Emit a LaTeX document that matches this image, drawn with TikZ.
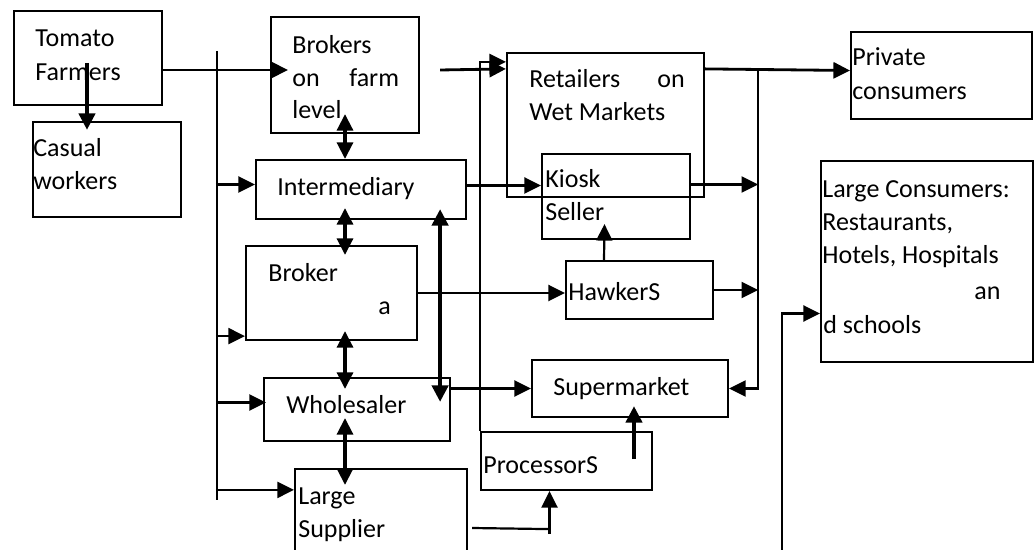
\documentclass[tikz,border=0pt]{standalone}
\usepackage{fontspec}
\setmainfont{Carlito}
\usepackage{tikz}
\usetikzlibrary{calc, arrows.meta, fit}

\begin{document}
\begin{tikzpicture}[
    x=0.02cm, y=-0.02cm,
    font=\fontsize{14.8}{17}\selectfont,
    box/.style={draw, line width=1.25pt, inner sep=0pt},
    txt/.style={anchor=base west, inner sep=0pt},
    link/.style={line width=1.25pt},
    arr/.style={line width=1.25pt, -{Triangle[length=0.33cm, width=0.32cm]}},
    mainarr/.style={arr, line width=1.6pt},
    dblarr/.style={line width=1.8pt, {Triangle[length=0.33cm, width=0.32cm]}-{Triangle[length=0.33cm, width=0.32cm]}},
    heavyarr/.style={arr, line width=2.4pt}
]
    \useasboundingbox (0,0) rectangle (1034,550);

    \node[box, fit={(14,11) (162,105)}] (farmers) {};
    \node[box, fit={(33,122) (181,217)}] (casual) {};
    \node[box, fit={(271,17) (419,133)}] (brokers) {};
    \node[box, fit={(256,160) (466,219)}] (inter) {};
    \node[box, fit={(246,246) (417,340)}] (broker) {};
    \node[box, fit={(264,378) (450,441)}] (whole) {};
    \node[box, fit={(295,469) (467,565)}] (lsup) {};
    \node[box, fit={(507,53) (704,197)}] (retail) {};
    \node[box, fit={(542,154) (690,239)}] (kiosk) {};
    \node[box, fit={(566,261) (713,319)}] (hawk) {};
    \node[box, fit={(532,360) (728,417)}] (supm) {};
    \node[box, fit={(481,432) (652,490)}] (procs) {};
    \node[box, fit={(851,32) (1032,119)}] (priv) {};
    \node[box, fit={(821,161) (1033,362)}] (lcons) {};

    \node[txt] (farmers-a) at (35,47) {Tomato};
    \node[txt] (farmers-b) at (35,81) {Farmers};
    \node[txt] (casual-a) at (33,157) {Casual};
    \node[txt] (casual-b) at (33,190) {workers};
    \node[txt] (brokers-a) at (292,54) {Brokers};
    \node[txt] (brokers-b) at (292,87) {on};
    \node[txt] (brokers-c) at (349,87) {farm};
    \node[txt] (brokers-d) at (292,119) {level};
    \node[txt] (inter-a) at (277,196) {Intermediary};
    \node[txt] (broker-a) at (268,282) {Broker};
    \node[txt] (broker-b) at (378,315) {a};
    \node[txt] (whole-a) at (286,413) {Wholesaler};
    \node[txt] (lsup-a) at (298,504) {Large};
    \node[txt] (lsup-b) at (298,537) {Supplier};
    \node[txt] (retail-a) at (529,88) {Retailers};
    \node[txt] (retail-b) at (657,88) {on};
    \node[txt] (retail-c) at (529,121) {Wet Markets};
    \node[txt] (kiosk-a) at (545,188) {Kiosk};
    \node[txt] (kiosk-b) at (545,221) {Seller};
    \node[txt] (hawk-a) at (568,301) {HawkerS};
    \node[txt] (supm-a) at (553,396) {Supermarket};
    \node[txt] (procs-a) at (483,473) {ProcessorS};
    \node[txt] (priv-a) at (852,66) {Private};
    \node[txt] (priv-b) at (852,100) {consumers};
    \node[txt] (lcons-a) at (822,198) {Large Consumers:};
    \node[txt] (lcons-b) at (822,231) {Restaurants,};
    \node[txt] (lcons-c) at (822,264) {Hotels, Hospitals};
    \node[txt] (lcons-d) at (974,300) {an};
    \node[txt] (lcons-e) at (823,334) {d schools};

    \coordinate (lbTop) at (217,51);
    \coordinate (lbBot) at (217,500);
    \coordinate (rbTop) at ($(retail.north east)+(53,17)$);
    \coordinate (lcFoot) at (782,560);

    \draw[heavyarr] ($(farmers.center)+(-1,5)$) -- ($(casual.north)+(-20,9)$);
    \draw[mainarr] ($(farmers.east)+(0,12)$) -- ($(brokers.west)+(18,-5)$);
    \draw[link] (lbTop) -- (lbBot);
    \draw[arr] ($(inter.west)+(-39,-5)$) -- ($(inter.west)+(0,-5)$);
    \draw[arr] ($(broker.south west)+(-29,-5)$) -- ($(broker.south west)+(0,-5)$);
    \draw[arr] ($(whole.west)+(-47,-7)$) -- ($(whole.west)+(3,-7)$);
    \draw[arr] ($(lsup.north west)+(-78,22)$) -- ($(lsup.north west)+(0,22)$);

    \draw[dblarr] ($(brokers.south)+(0,-20)$) -- (brokers.south |- inter.north);
    \draw[dblarr] ($(brokers.south |- inter.south)+(0,-12)$) -- ($(brokers.south |- broker.north)+(0,10)$);
    \draw[dblarr] ($(brokers.south |- broker.south)+(0,-10)$) -- ($(brokers.south |- whole.north)+(0,12)$);
    \draw[dblarr] ($(brokers.south |- whole.south)+(0,-24)$) -- ($(brokers.south |- lsup.north)+(0,17)$);
    \draw[dblarr, line width=2.4pt] ($(whole.east |- inter.south)+(-11,-11)$) -- ($(whole.north east)+(-11,25)$);

    \draw[mainarr] ($(brokers.east)+(20,-5)$) -- ($(retail.north west)+(0,17)$);
    \draw[arr] (procs.north west) -- ($(procs.north west |- retail.north west)+(0,10)$) -- ($(retail.north west)+(0,10)$);
    \draw[arr] ($(inter.east)+(0,-4)$) -- ($(kiosk.west)+(0,-11)$);
    \draw[mainarr] ($(retail.north east)+(0,17)$) -- ($(priv.west)+(0,-5)$);
    \draw[arr] (rbTop) |- (supm.east);
    \draw[arr] ($(kiosk.east)+(0,-12)$) -- ($(kiosk.east -| rbTop)+(0,-12)$);
    \draw[arr] (hawk.east) -- (hawk.east -| rbTop);
    \draw[arr] ($(hawk.north)+(-35.5,0)$) -- ($(kiosk.south)+(-11.5,-16)$);
    \draw[arr] (broker.east) -- (broker.east -| hawk.west);
    \draw[arr] (supm.west -| whole.east) -- (supm.west);
    \draw[heavyarr] ($(supm.south)+(4,41)$) -- ($(supm.south)+(4,-12)$);
    \draw[link] ($(lsup.east)+(4,11)$) -- ($(procs.south)+(-17,38)$);
    \draw[arr] ($(procs.south)+(-17,43)$) -- ($(procs.south)+(-17,0)$);
    \draw[arr] (lcFoot) |- ($(lcons.west)+(0,52)$);
\end{tikzpicture}
\end{document}
